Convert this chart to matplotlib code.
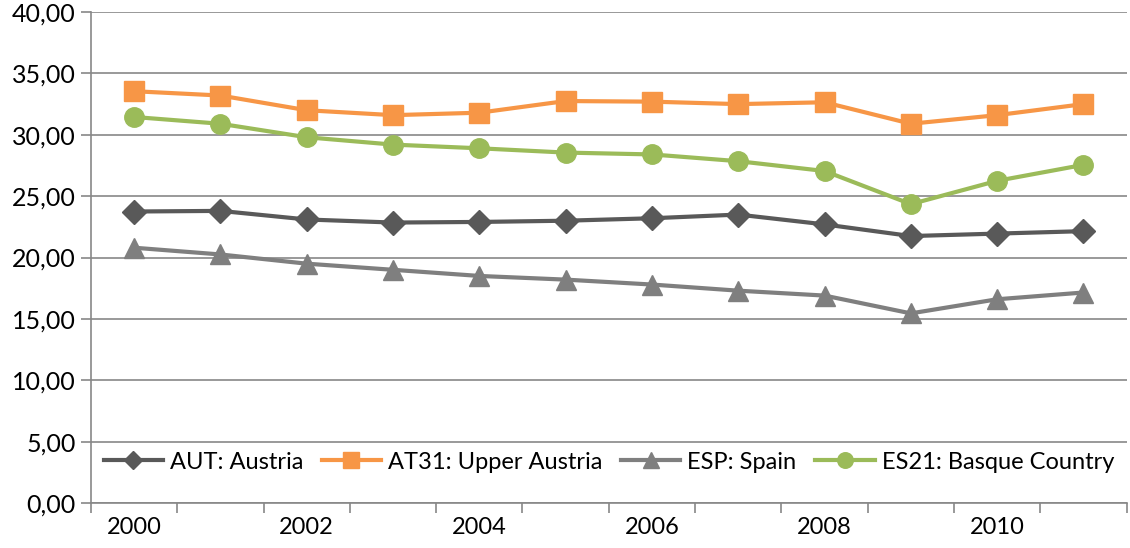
import numpy as np
import matplotlib.pyplot as plt
from matplotlib.ticker import FuncFormatter, MultipleLocator

plt.rcParams['font.family'] = ['Lato', 'DejaVu Sans']

years = list(range(2000, 2012))
aut = [23.75, 23.8, 23.1, 22.85, 22.9, 23.0, 23.2, 23.5, 22.7, 21.75, 21.95, 22.15]
at31 = [33.55, 33.2, 32.0, 31.6, 31.8, 32.75, 32.7, 32.5, 32.65, 30.9, 31.6, 32.5]
esp = [20.8, 20.25, 19.5, 19.0, 18.5, 18.2, 17.8, 17.3, 16.9, 15.45, 16.6, 17.15]
es21 = [31.45, 30.9, 29.8, 29.2, 28.9, 28.55, 28.4, 27.85, 27.05, 24.35, 26.25, 27.55]

series = [
    ("AUT: Austria", aut, "#595959", "D", 12),
    ("AT31: Upper Austria", at31, "#F79646", "s", 14),
    ("ESP: Spain", esp, "#7F7F7F", "^", 14),
    ("ES21: Basque Country", es21, "#9BBB59", "o", 14),
]

fig = plt.figure(figsize=(11.3, 5.48), dpi=100)
ax = fig.add_axes([0.0805, 0.0821, 0.9165, 0.8959])

x = np.arange(len(years))
for name, vals, col, mk, ms in series:
    ax.plot(x, vals, color=col, lw=3, marker=mk, markersize=ms, label=name)

ax.set_xlim(-0.5, len(years) - 0.5)
ax.set_ylim(0, 40)
ax.yaxis.set_major_locator(MultipleLocator(5))
ax.yaxis.set_major_formatter(FuncFormatter(lambda v, p: f"{v:.2f}".replace(".", ",")))

# labels every other year, ticks between categories
ax.set_xticks(x[::2])
ax.set_xticklabels([str(y) for y in years[::2]])
ax.set_xticks(np.arange(-0.5, len(years) + 0.5, 1), minor=True)
ax.tick_params(axis='x', which='major', length=0, pad=10, labelsize=17)
ax.tick_params(axis='x', which='minor', length=7, color='#878787', width=1.2)
ax.tick_params(axis='y', length=7, color='#878787', width=1.2, labelsize=18, pad=4)

ax.grid(axis='y', color='#878787', lw=1.2)
ax.set_axisbelow(True)
for s in ['top', 'right']:
    ax.spines[s].set_visible(False)
for s in ['left', 'bottom']:
    ax.spines[s].set_color('#878787')
    ax.spines[s].set_linewidth(1.2)

leg = ax.legend(loc='center', bbox_to_anchor=(0.5, 41 / 491), ncol=4, frameon=False,
                fontsize=17, handlelength=2.5, columnspacing=0.8, handletextpad=0.3,
                markerscale=0.8)

fig.savefig("out.png", dpi=100)
